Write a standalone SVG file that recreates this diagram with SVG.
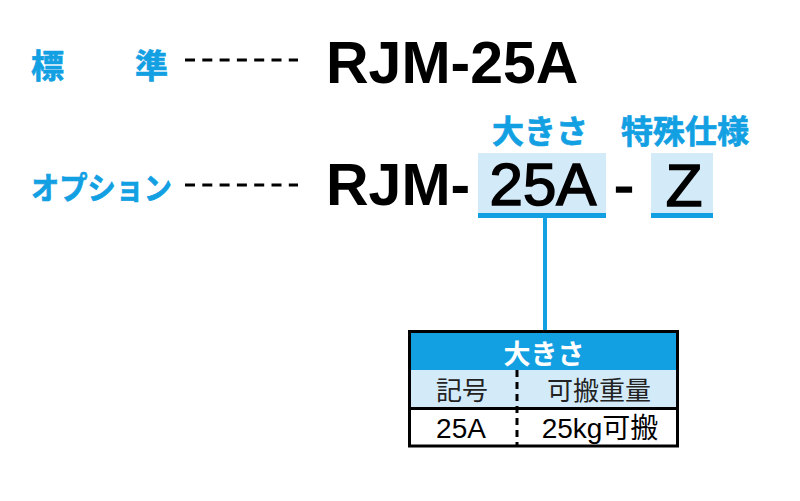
<svg xmlns="http://www.w3.org/2000/svg" width="800" height="501" viewBox="0 0 800 501">
<style>
.lbl{font-family:"Noto Sans CJK JP","Noto Sans",sans-serif;font-weight:bold;fill:#12a0e3;stroke:#12a0e3;stroke-width:0.7}
.code{font-family:"Liberation Sans",Arial,sans-serif;fill:#000}
.b{font-weight:bold}
.med{stroke:#000;stroke-width:1.6}
.dash{stroke:#000;stroke-width:3;stroke-dasharray:10 7.3;fill:none}
.tcjk{font-family:"Noto Sans CJK JP","Noto Sans",sans-serif;fill:#222}
.tlat{font-family:"Liberation Sans",Arial,"Noto Sans CJK JP",sans-serif;fill:#000}
</style>
<rect width="800" height="501" fill="#fff"/>
<g id="standard">
<text class="lbl" x="31" y="78" font-size="33">標</text>
<text class="lbl" x="135" y="78" font-size="33">準</text>
<line class="dash" x1="185" y1="60" x2="298" y2="60"/>
<text class="code b" x="326" y="83" font-size="59">RJM-25A</text>
</g>
<g id="option">
<text class="lbl" x="31" y="199" font-size="31" textLength="141" lengthAdjust="spacingAndGlyphs">オプション</text>
<line class="dash" x1="185" y1="185" x2="298" y2="185"/>
<text class="code b" x="326" y="205" font-size="59">RJM-</text>
</g>
<g id="size-field">
<text class="lbl" x="540" y="143" font-size="32" text-anchor="middle">大きさ</text>
<rect x="478" y="153" width="128" height="60" fill="#d3ebf9"/>
<rect x="478" y="213" width="128" height="5" fill="#12a0e3"/>
<text class="code med" x="543" y="205" font-size="60" text-anchor="middle">25A</text>
</g>
<g id="hyphen">
<text class="code med" x="624" y="205" font-size="60" text-anchor="middle">-</text>
</g>
<g id="special-field">
<text class="lbl" x="685" y="143" font-size="32" text-anchor="middle">特殊仕様</text>
<rect x="651" y="153" width="62" height="60" fill="#d3ebf9"/>
<rect x="651" y="213" width="62" height="5" fill="#12a0e3"/>
<text class="code med" x="684" y="206" font-size="60" text-anchor="middle">Z</text>
</g>
<g id="connectors">
<line x1="545" y1="218" x2="545" y2="331" stroke="#12a0e3" stroke-width="4"/>
</g>
<g id="size-table">
<rect x="409.5" y="331.5" width="268" height="38.5" fill="#12a0e3"/>
<rect x="409.5" y="370" width="268" height="38" fill="#d3ebf9"/>
<rect x="409.5" y="408" width="268" height="38" fill="#fff"/>
<line x1="409.5" y1="408.5" x2="677.5" y2="408.5" stroke="#000" stroke-width="3"/>
<line x1="517" y1="370" x2="517" y2="446" stroke="#000" stroke-width="3" stroke-dasharray="7 5"/>
<rect x="409.5" y="331.5" width="268" height="114.5" fill="none" stroke="#000" stroke-width="3"/>
<text x="544" y="364" font-size="27" text-anchor="middle" font-family="Noto Sans CJK JP,sans-serif" font-weight="bold" fill="#fff">大きさ</text>
<text class="tcjk" x="462" y="400" font-size="26" text-anchor="middle">記号</text>
<text class="tcjk" x="599" y="400" font-size="26" text-anchor="middle">可搬重量</text>
<text class="tlat" x="461" y="438" font-size="28" text-anchor="middle">25A</text>
<text class="tlat" x="600" y="438" font-size="28" text-anchor="middle">25kg可搬</text>
</g>
</svg>
